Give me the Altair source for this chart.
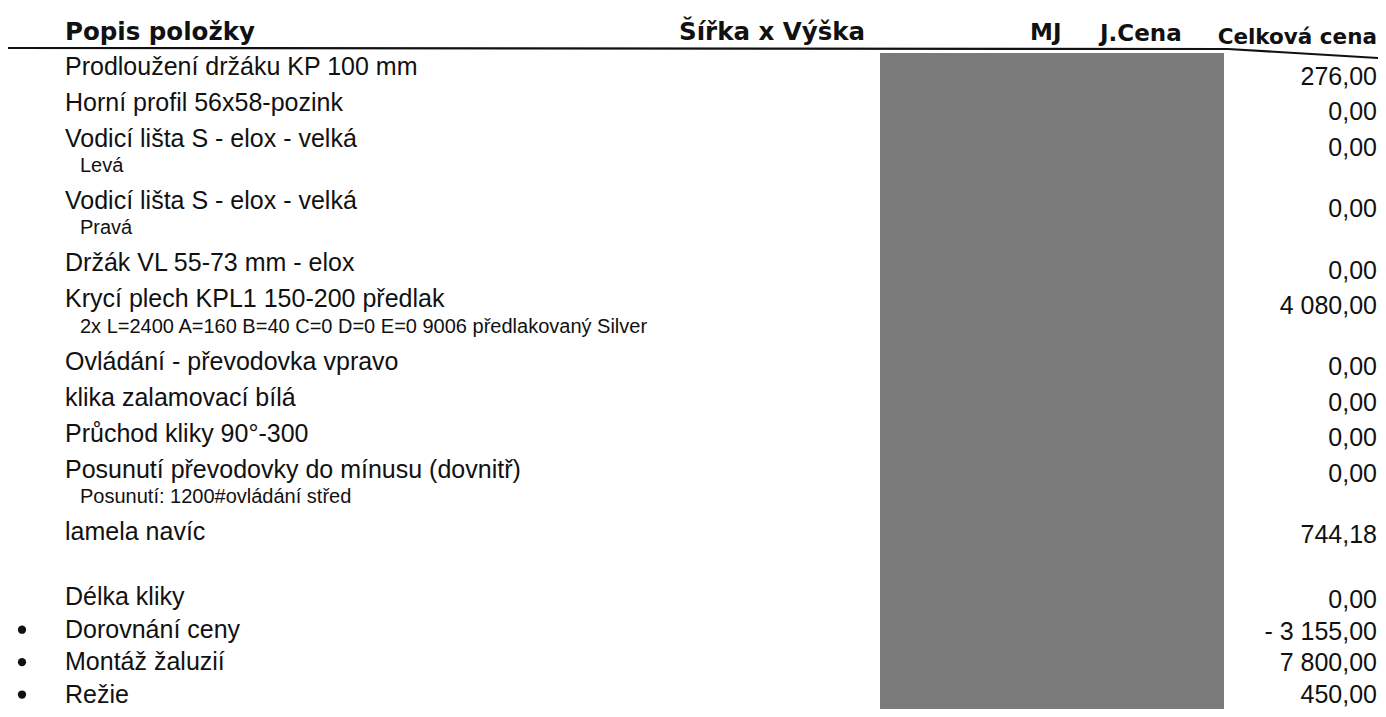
import altair as alt
import pandas as pd

# ---------------- data ----------------
headers = ["Popis položky", "Šířka x Výška", "MJ", "J.Cena", "Celková cena"]

items = [
    "Prodloužení držáku KP 100 mm",
    "Horní profil 56x58-pozink",
    "Vodicí lišta S - elox - velká",
    "Vodicí lišta S - elox - velká",
    "Držák VL 55-73 mm - elox",
    "Krycí plech KPL1 150-200 předlak",
    "Ovládání - převodovka vpravo",
    "klika zalamovací bílá",
    "Průchod kliky 90°-300",
    "Posunutí převodovky do mínusu (dovnitř)",
    "lamela navíc",
    "Délka kliky",
    "Dorovnání ceny",
    "Montáž žaluzií",
    "Režie",
]

notes = [
    "", "", "Levá", "Pravá", "",
    "2x L=2400 A=160 B=40 C=0 D=0 E=0 9006 předlakovaný Silver",
    "", "", "",
    "Posunutí: 1200#ovládání střed",
    "", "", "", "", "",
]

prices = [276.00, 0.00, 0.00, 0.00, 0.00, 4080.00, 0.00, 0.00, 0.00, 0.00,
          744.18, 0.00, -3155.00, 7800.00, 450.00]

bullets = [False] * 12 + [True] * 3

blank_after = ["lamela navíc"]  # an empty line follows this item


def fmt_czk(v):
    s = f"{abs(v):,.2f}".replace(",", " ").replace(".", ",")
    return ("- " + s) if v < 0 else s


# ---------------- layout (line units) ----------------
NOTE_OFFSET = 0.76
ITEM_WITH_NOTE = 1.73
BLANK = 0.82
TAIL_STEP = 0.9

main_rows, note_rows, price_rows, bullet_rows = [], [], [], []
u = 1.0
after_blank = False
for name, note, price, bul in zip(items, notes, prices, bullets):
    main_rows.append({"u": u, "label": name})
    price_rows.append({"u": u + 0.3 - 0.015 * u, "label": fmt_czk(price)})
    if bul:
        bullet_rows.append({"u": u})
    if note:
        note_rows.append({"u": u + NOTE_OFFSET, "label": note})
        u += ITEM_WITH_NOTE
    else:
        u += TAIL_STEP if after_blank else 1.0
    if name in blank_after:
        u += BLANK
        after_blank = True

main_df = pd.DataFrame(main_rows)
note_df = pd.DataFrame(note_rows)
price_df = pd.DataFrame(price_rows)
bullet_df = pd.DataFrame(bullet_rows)

W, H = 1370, 701
STEP = 36.0     # px per line unit
TOP = 22.7      # px position of line unit 0
yscale = alt.Scale(domain=[-TOP / STEP, (H - TOP) / STEP], range=[0, H],
                   nice=False, zero=False)
Y = alt.Y("u:Q", scale=yscale, axis=None)

FONT = "Liberation Sans"
HFONT = "DejaVu Sans"
INK = "#111111"

# header texts
hdr_left = pd.DataFrame({"u": [0.05], "label": [headers[0]]})
hdr_size = pd.DataFrame({"u": [0.05], "label": [headers[1]]})
hdr_mj = pd.DataFrame({"u": [0.07], "label": [headers[2]]})
hdr_jc = pd.DataFrame({"u": [0.1], "label": [headers[3]]})
hdr_cc = pd.DataFrame({"u": [0.2], "label": [headers[4]]})


def header(df, x, align="left", size=24.5):
    return alt.Chart(df).mark_text(
        align=align, baseline="middle", font=HFONT, fontSize=size,
        fontWeight="bold", color=INK
    ).encode(x=alt.value(x), y=Y, text="label:N")


layers = []

# redacted block
layers.append(
    alt.Chart(pd.DataFrame({"k": [0]})).mark_rect(color="#7a7a7a").encode(
        x=alt.value(872), x2=alt.value(1216), y=alt.value(45), y2=alt.value(H)
    )
)

# header rule
layers.append(
    alt.Chart(pd.DataFrame({"k": [0]})).mark_rule(color=INK, strokeWidth=2.2).encode(
        x=alt.value(-2), x2=alt.value(1220), y=alt.value(40), y2=alt.value(41)
    )
)
layers.append(
    alt.Chart(pd.DataFrame({"k": [0]})).mark_rule(color=INK, strokeWidth=2.2).encode(
        x=alt.value(1220), x2=alt.value(W), y=alt.value(41), y2=alt.value(50)
    )
)

layers += [
    header(hdr_left, 57),
    header(hdr_size, 671),
    header(hdr_mj, 1022, size=23),
    header(hdr_jc, 1092, size=23),
    header(hdr_cc, 1369, align="right", size=21.5),
]

layers.append(
    alt.Chart(main_df).mark_text(
        align="left", baseline="middle", font=FONT, fontSize=25, color=INK
    ).encode(x=alt.value(57), y=Y, text="label:N")
)
layers.append(
    alt.Chart(note_df).mark_text(
        align="left", baseline="middle", font=FONT, fontSize=20, color=INK
    ).encode(x=alt.value(72), y=Y, text="label:N")
)
layers.append(
    alt.Chart(price_df).mark_text(
        align="right", baseline="middle", font=FONT, fontSize=25, color=INK
    ).encode(x=alt.value(1369), y=Y, text="label:N")
)
layers.append(
    alt.Chart(bullet_df).mark_circle(size=68, color=INK, opacity=1).encode(
        x=alt.value(14), y=Y
    )
)

chart = alt.layer(*layers).properties(
    width=W, height=H, padding=0, autosize="none", background="white"
).configure_view(stroke=None)

chart.save("out.html", embed_options={"renderer": "svg", "actions": False})
